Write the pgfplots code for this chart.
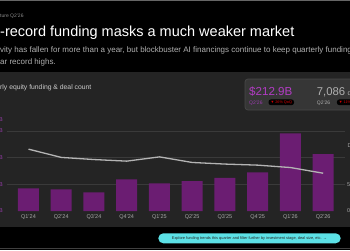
\documentclass[border=0pt]{standalone}
\usepackage{fontspec}
\setmainfont{Liberation Sans}
\usepackage{pgfplots}
\pgfplotsset{compat=1.18}
\definecolor{panel}{HTML}{242424}
\definecolor{barp}{HTML}{6B1D72}
\definecolor{purptxt}{HTML}{9A3CAE}
\definecolor{magtxt}{HTML}{B23CC4}
\definecolor{gridc}{HTML}{3A3A3A}
\definecolor{linec}{HTML}{B4B4B4}
\definecolor{ticktxt}{HTML}{A8A8A8}
\definecolor{cyanbtn}{HTML}{5CE1E6}
\definecolor{subtxt}{HTML}{B0B0B0}
\begin{document}
\begin{tikzpicture}[x=1pt,y=-1pt]
\useasboundingbox (0,0) rectangle (350,250);
\clip (0,0) rectangle (350,250);
\fill[black] (0,0) rectangle (350,250);
\draw[white!40!black, line width=0.8pt] (0,0.4) -- (350,0.4);
\fill[panel] (0,72) rectangle (350,227);
\draw[white!25!black, line width=0.6pt] (0,248.5) -- (350,248.5);

% header
\node[anchor=base west, inner sep=0, text=white!55!black, font=\fontsize{5}{6}\selectfont] at (0,17) {ture Q2'26};
\node[anchor=base west, inner sep=0, text=white, font=\fontsize{14.5}{16}\selectfont] at (0,36.5) {-record funding masks a much weaker market};
\node[anchor=base west, inner sep=0, text=subtxt, font=\fontsize{8}{9}\selectfont] at (0,52) {vity has fallen for more than a year, but blockbuster AI financings continue to keep quarterly funding};
\node[anchor=base west, inner sep=0, text=subtxt, font=\fontsize{8}{9}\selectfont] at (0,64.5) {ar record highs.};

% panel title
\node[anchor=base west, inner sep=0, text=white!80!black, font=\fontsize{6.8}{8}\selectfont] at (0,89.5) {rly equity funding \& deal count};

\begin{axis}[at={(7pt,-211pt)}, anchor=south west, scale only axis,
  width=338pt, height=80pt,
  xmin=-0.656, xmax=9.666, ymin=0, ymax=300,
  axis line style={draw=none}, major tick length=0pt,
  xtick={0,...,9},
  xticklabels={Q1'24,Q2'24,Q3'24,Q4'24,Q1'25,Q2'25,Q3'25,Q4'25,Q1'26,Q2'26},
  xticklabel style={inner sep=0pt, yshift=-3.5pt, text=ticktxt, font=\fontsize{5.5}{6}\selectfont},
  ytick={100,200,300}, yticklabels={\$100B,\$200B,\$300B},
  extra y ticks={0}, extra y tick labels={\$0B},
  extra y tick style={grid=none},
  ymajorgrids, grid style={gridc, line width=0.6pt},
  yticklabel style={text=purptxt, inner sep=0pt, xshift=-4pt, font=\fontsize{5.5}{6}\selectfont},
  /pgf/number format/assume math mode=true,
  clip=false]
\addplot[ybar, bar width=21pt, fill=barp, draw=none] coordinates {
(0,85) (1,81) (2,70) (3,119) (4,104) (5,112) (6,124) (7,145) (8,291) (9,212.9)};
\end{axis}

\begin{axis}[at={(7pt,-211pt)}, anchor=south west, scale only axis,
  width=338pt, height=80pt,
  xmin=-0.656, xmax=9.666, ymin=0, ymax=15000,
  hide x axis, axis y line*=right,
  axis line style={draw=none}, major tick length=0pt,
  scaled y ticks=false,
  ytick={0,5000}, yticklabels={0,5K},
  yticklabel style={text=ticktxt, inner sep=0pt, xshift=2pt, font=\fontsize{5.5}{6}\selectfont},
  /pgf/number format/assume math mode=true,
  clip=false]
\addplot[linec, line width=1.3pt, mark=none] coordinates {
(0,11600) (1,10050) (2,9650) (3,9350) (4,10150) (5,9100) (6,8800) (7,8600) (8,8150) (9,7086)};
\end{axis}

% axis extra labels
\node[anchor=east, inner sep=0, text=purptxt, font=\fontsize{5.5}{6}\selectfont] at (3,119.3) {\$B};
\node[anchor=west, inner sep=0, text=ticktxt, font=\fontsize{5.5}{6}\selectfont] at (347.5,146) {Deals};

% info box
\draw[fill=panel!92!white, draw=white!28!black, line width=0.7pt, rounded corners=3pt] (245,79) rectangle (365,110);
\node[anchor=base west, inner sep=0, text=magtxt, font=\fontsize{11.6}{13}\selectfont] at (249,95) {\$212.9B};
\node[anchor=base west, inner sep=0, text=purptxt, font=\fontsize{5}{6}\selectfont] at (249,104.3) {Q2'26};
\node[anchor=west, fill=black, rounded corners=2.5pt, inner xsep=2pt, inner ysep=1.2pt, text=red!85!black, font=\fontsize{3.8}{4}\selectfont] at (268.3,102.3) {▼ 26\% QoQ};
\node[anchor=base west, inner sep=0, text=subtxt, font=\fontsize{11.3}{13}\selectfont] at (316.7,95) {7,086};
\node[anchor=base west, inner sep=0, text=subtxt, font=\fontsize{7}{8}\selectfont] at (347.5,95) {deals};
\node[anchor=base west, inner sep=0, text=subtxt, font=\fontsize{5}{6}\selectfont] at (316.7,104.3) {Q2'26};
\node[anchor=west, fill=black, rounded corners=2.5pt, inner xsep=2pt, inner ysep=1.2pt, text=red!85!black, font=\fontsize{3.8}{4}\selectfont] at (336.7,102.3) {▼ 11\% QoQ};

% button
\node[fill=cyanbtn, rounded corners=5pt, minimum height=10pt, minimum width=182.4pt, inner sep=0pt, text=black!85, font=\fontsize{3.9}{4}\selectfont] at (249.5,238.3) {Explore funding trends this quarter and filter further by investment stage, deal size, etc. →};
\end{tikzpicture}
\end{document}
